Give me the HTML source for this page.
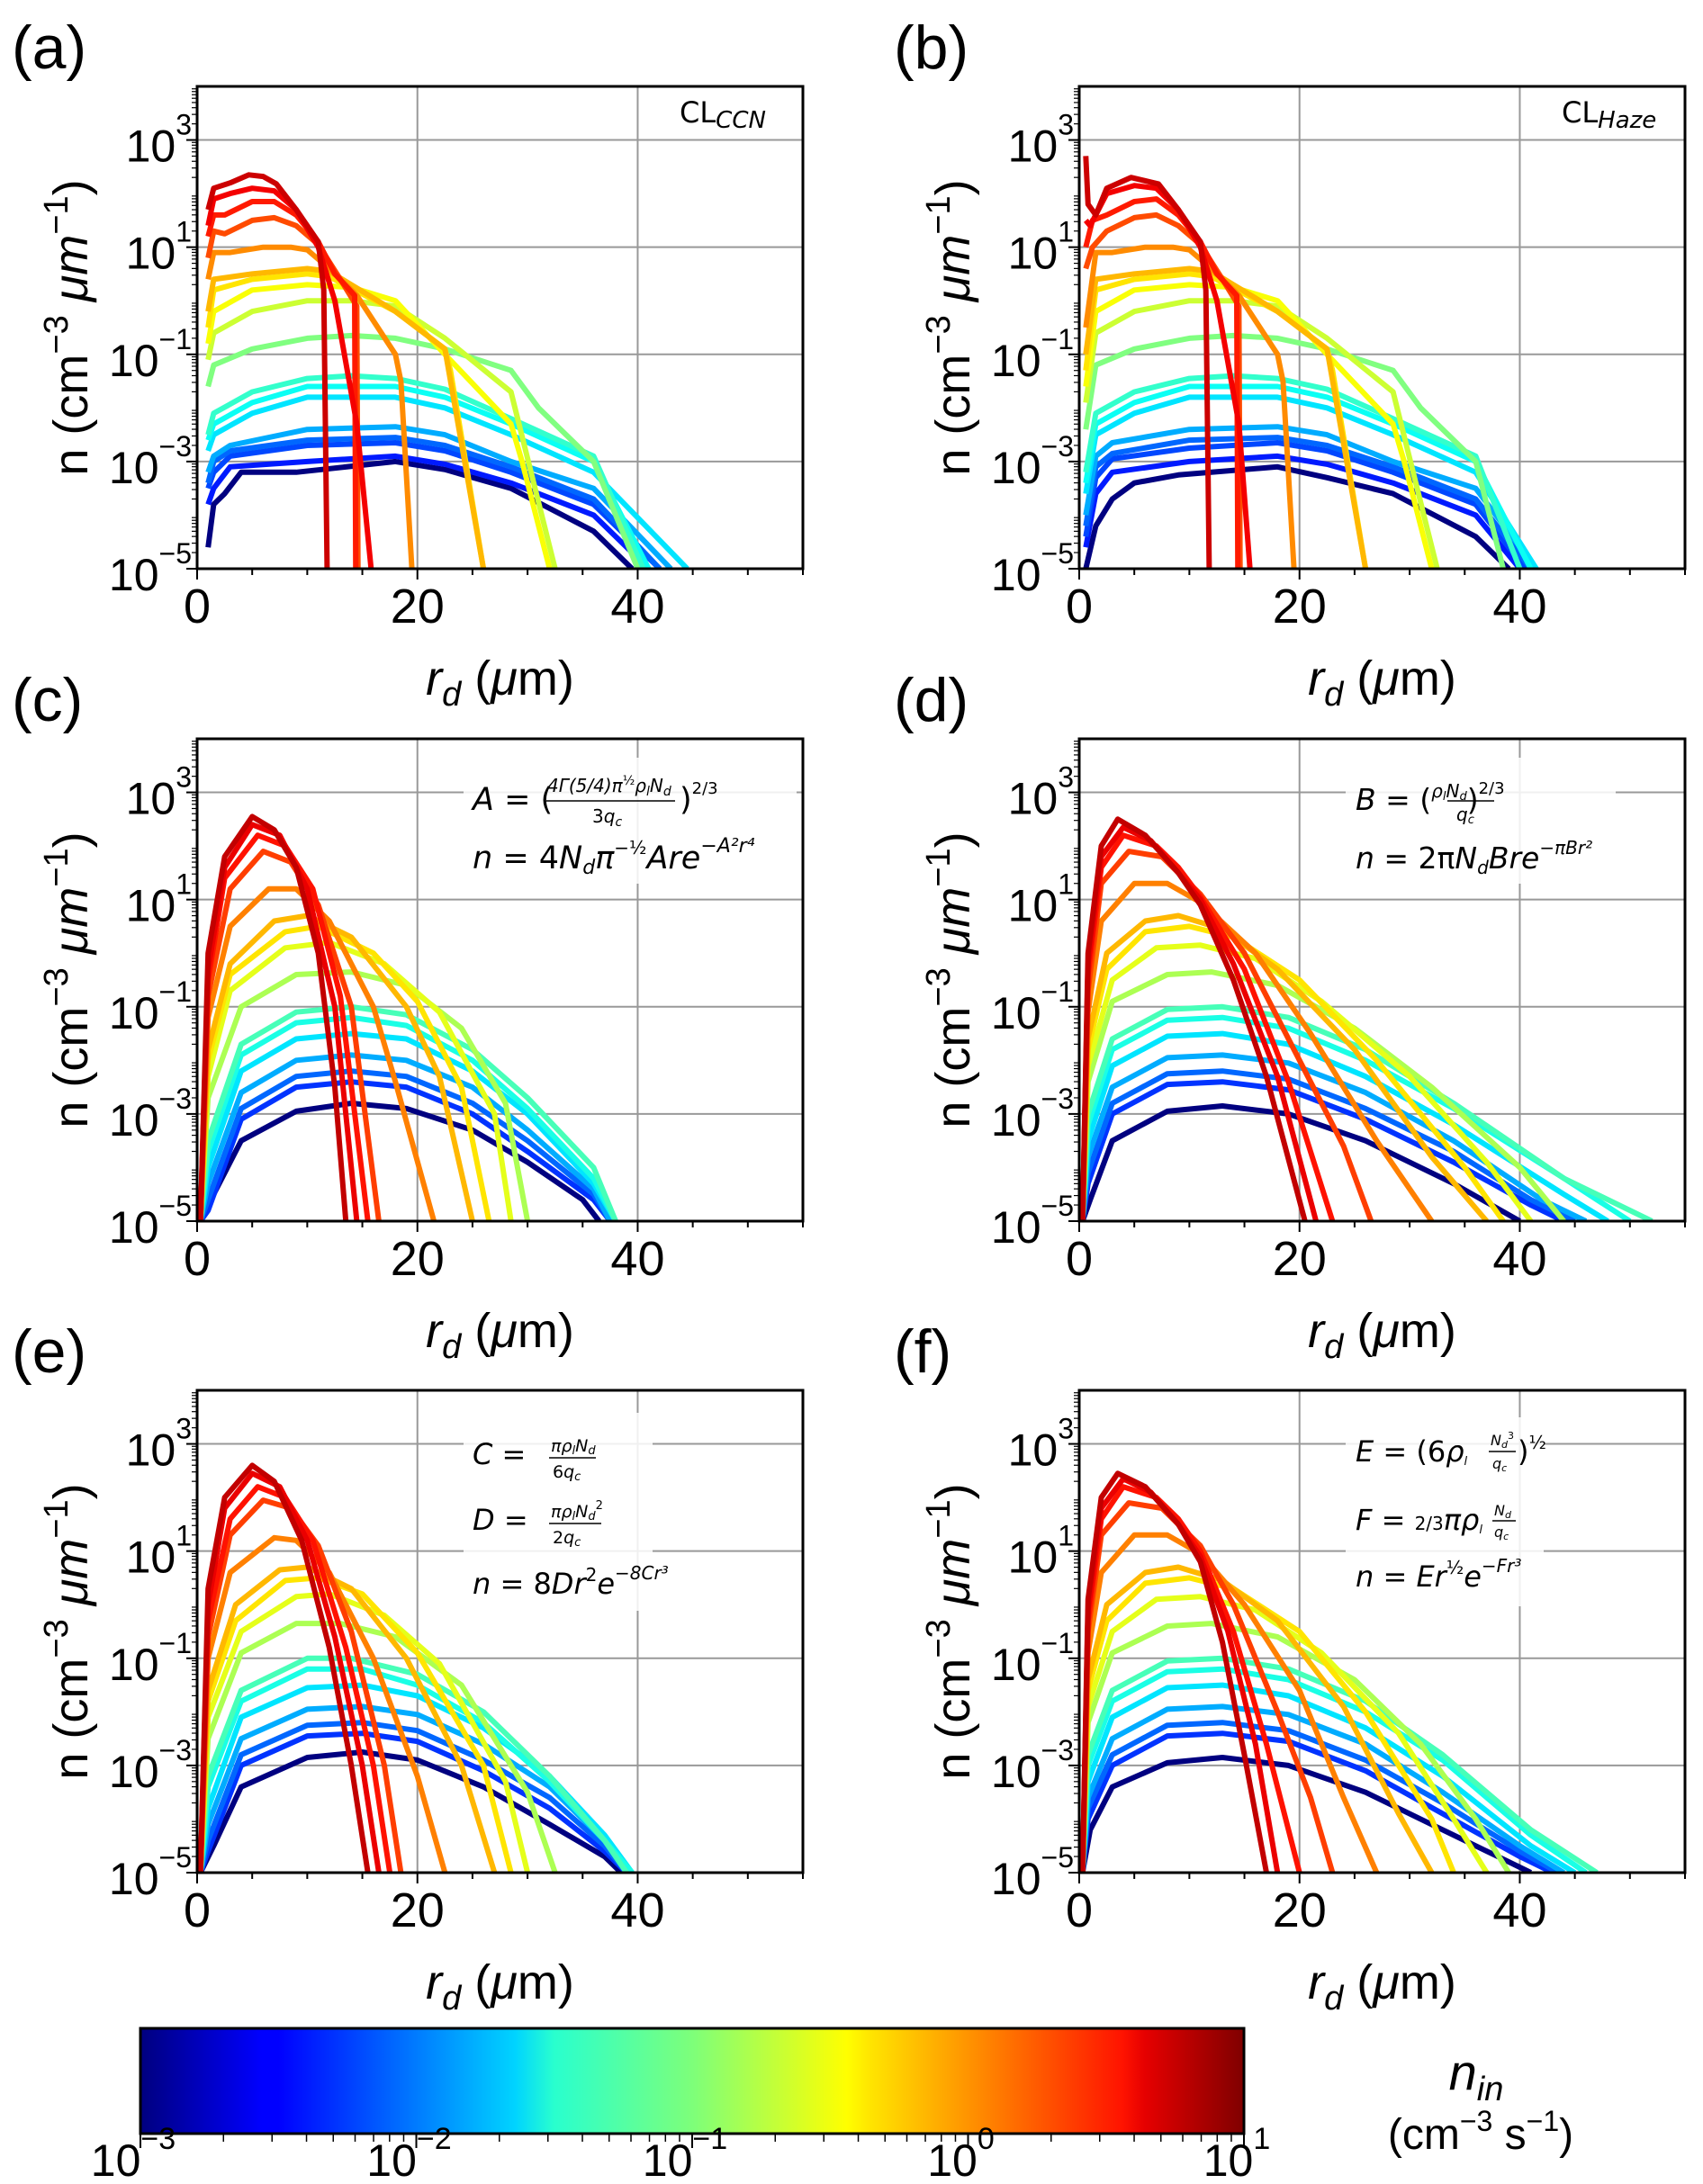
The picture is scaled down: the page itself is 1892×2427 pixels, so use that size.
<!DOCTYPE html>
<html><head><meta charset="utf-8">
<style>
html,body{margin:0;padding:0;background:#fff;}
svg{display:block;font-family:"Liberation Sans","DejaVu Sans",sans-serif;}
.math{font-family:"DejaVu Sans","Liberation Sans",sans-serif;}
</style></head>
<body>
<svg id="fig" width="1892" height="2427" viewBox="0 0 1892 2427" xmlns="http://www.w3.org/2000/svg">
<defs>
<linearGradient id="jet" x1="0" x2="1" y1="0" y2="0">
<stop offset="0" stop-color="#00007f"/>
<stop offset="0.11" stop-color="#0000ff"/>
<stop offset="0.125" stop-color="#0000ff"/>
<stop offset="0.34" stop-color="#00d4ff"/>
<stop offset="0.375" stop-color="#29ffce"/>
<stop offset="0.5" stop-color="#7dff7a"/>
<stop offset="0.64" stop-color="#ffff00"/>
<stop offset="0.66" stop-color="#ffe600"/>
<stop offset="0.89" stop-color="#ff1300"/>
<stop offset="0.91" stop-color="#e60000"/>
<stop offset="1" stop-color="#7f0000"/>
</linearGradient>
</defs>
<g id="panels"></g>
<g id="cbar"></g>
</svg>
<script>
// ---- data: nin per curve, radii (um), log10(n) per curve ----
const aNin=[0.001,0.004,0.006,0.008,0.015,0.025,0.035,0.05,0.1,0.2,0.3,0.4,0.6,0.9,1.6,2.5,3.5,5];
const aR=[
[1,1.5,2.5,4,9,18,22.5,28.5,36,39.5],
[1,1.5,3,10,18,22.5,28.5,36,41],
[1,1.5,3,10,18,22.5,28.5,36,42],
[1,1.5,3,10,18,22.5,28.5,36,42],
[1,1.5,3,10,18,22.5,28.5,36,43],
[1,1.5,5,10,18,22.5,28.5,36,44.5],
[1,1.5,5,10,18,22.5,28.5,36,41],
[1,1.5,5,10,14,18,22.5,28.5,36,40.5],
[1,1.5,5,10,14,18,22.5,28.5,31,36,40],
[1,1.5,5,10,14,18,22.5,28.5,32.5],
[1,1.5,5,10,14,18,22.5,28.5,29.5,32],
[1,1.5,5,10,12,18,22.5,23,26],
[1,1.5,5,10,12,14,18,22.5,26],
[1,1.5,3,6,8.5,10,12,14.5,18,18.5,19.5],
[1,1.5,2.5,5,7,9,11,13,14.5,14.6],
[1,1.5,2.5,5,7,9,11,12.5,14.3,14.4],
[1,1.5,3,5,7,9,11,12.5,14.5,15.8],
[1,1.5,3,4.7,6,7.2,9,11,11.5,11.8]];
const aLog=[
[-4.6,-3.8,-3.6,-3.2,-3.2,-3.0,-3.15,-3.5,-4.3,-5],
[-3.8,-3.5,-3.1,-3.0,-2.9,-3.05,-3.4,-4.0,-5],
[-3.5,-3.2,-2.9,-2.7,-2.65,-2.8,-3.2,-3.8,-5],
[-3.4,-3.0,-2.8,-2.6,-2.55,-2.7,-3.1,-3.7,-5],
[-3.2,-2.9,-2.7,-2.4,-2.35,-2.5,-3.0,-3.5,-5],
[-2.8,-2.5,-2.1,-1.8,-1.8,-2.0,-2.5,-3.2,-5],
[-2.6,-2.3,-1.9,-1.6,-1.6,-1.8,-2.3,-3.0,-5],
[-2.5,-2.1,-1.7,-1.45,-1.4,-1.45,-1.65,-2.2,-2.9,-5],
[-1.6,-1.2,-0.9,-0.7,-0.65,-0.7,-0.9,-1.3,-2.0,-3.0,-5],
[-1.1,-0.6,-0.2,0,0,-0.1,-0.7,-1.7,-5],
[-0.8,-0.2,0.2,0.3,0.25,0,-1.0,-2.3,-3,-5],
[-0.5,0.2,0.4,0.5,0.45,-0.2,-0.9,-1.3,-5],
[-0.2,0.4,0.5,0.6,0.55,0.3,-0.2,-0.9,-5],
[0.4,0.9,0.9,1.0,1.0,0.95,0.6,0.1,-1.0,-1.5,-5],
[0.8,1.3,1.25,1.5,1.55,1.4,1.05,0.4,-0.1,-5],
[1.2,1.6,1.6,1.85,1.85,1.6,1.1,0.5,0.1,-5],
[1.4,1.9,2.0,2.1,2.05,1.7,1.0,0.0,-2.3,-5],
[1.7,2.1,2.2,2.35,2.32,2.18,1.7,1.1,0.2,-5]];

const bNin=[0.001,0.004,0.006,0.008,0.015,0.025,0.035,0.05,0.1,0.2,0.3,0.4,0.6,0.9,1.6,2.5,3.5,5];
const bR=[
[0.6,1.5,3,5,9,18,22.5,28.5,36,39],
[0.6,1.5,3,10,18,22.5,28.5,36,40],
[0.6,1.5,3,10,18,22.5,28.5,36,40.5],
[0.6,1.5,3,10,18,22.5,28.5,36,41],
[0.6,1.5,3,10,18,22.5,28.5,36,41.5],
[0.6,1.5,5,10,18,22.5,28.5,36,41.5],
[0.6,1.5,5,10,18,22.5,28.5,36,41],
[0.6,1.5,5,10,14,18,22.5,28.5,36,40],
[0.6,1.5,5,10,14,18,22.5,28.5,31,36,38.5],
[0.6,1.5,5,10,14,18,22.5,28.5,32.5],
[0.6,1.5,5,10,14,18,22.5,28.5,29.5,32],
[0.6,1.5,5,10,12,18,22.5,23,26],
[0.6,1.5,5,10,12,14,18,22.5,26],
[0.6,1.5,3,6,8.5,10,12,14.5,18,18.5,19.5],
[0.6,1.2,2.5,5,7,9,11,13,14.5,14.6],
[0.6,1.2,2.5,5,7,9,11,12.5,14.3,14.4],
[0.6,1.0,2.5,5,7,9,11,12.5,14.5,15.5],
[0.6,0.8,1.5,2.5,4.7,7.2,9,11,11.5,11.8]];
const bLog=[
[-5,-4.2,-3.7,-3.4,-3.25,-3.1,-3.3,-3.6,-4.4,-5],
[-4.6,-3.6,-3.2,-3.0,-2.9,-3.05,-3.4,-4.0,-5],
[-4.4,-3.3,-2.95,-2.75,-2.65,-2.8,-3.2,-3.8,-5],
[-4.2,-3.1,-2.85,-2.6,-2.55,-2.7,-3.1,-3.7,-5],
[-4.0,-2.9,-2.65,-2.4,-2.35,-2.5,-3.0,-3.5,-5],
[-3.6,-2.5,-2.1,-1.8,-1.8,-2.0,-2.5,-3.2,-5],
[-3.4,-2.3,-1.9,-1.6,-1.6,-1.8,-2.3,-3.0,-5],
[-3.2,-2.1,-1.7,-1.45,-1.4,-1.45,-1.65,-2.2,-2.9,-5],
[-2.4,-1.2,-0.9,-0.7,-0.65,-0.7,-0.9,-1.3,-2.0,-3.0,-5],
[-1.9,-0.6,-0.2,0,0,-0.1,-0.7,-1.7,-5],
[-1.6,-0.2,0.2,0.3,0.25,0,-1.0,-2.3,-3,-5],
[-1.3,0.2,0.4,0.5,0.45,-0.2,-0.9,-1.3,-5],
[-1.0,0.4,0.5,0.6,0.55,0.3,-0.2,-0.9,-5],
[-0.5,0.9,0.9,1.0,1.0,0.95,0.6,0.1,-1.0,-1.5,-5],
[0.6,1.0,1.3,1.55,1.6,1.4,1.05,0.4,-0.1,-5],
[1.0,1.5,1.6,1.85,1.9,1.6,1.1,0.5,0.1,-5],
[1.5,1.4,2.0,2.15,2.1,1.7,1.0,0.0,-2.3,-5],
[2.7,1.8,1.6,2.1,2.3,2.18,1.7,1.1,0.2,-5]];

const cNin=[0.001,0.005,0.008,0.015,0.025,0.04,0.06,0.15,0.25,0.4,0.6,1.0,1.8,2.7,3.8,5.5];
const cR=[
[0.3,1.5,4,9,14,19,25,30,35,36.5],
[0.3,1,4,9,14,19,25,30,36,37.5],
[0.3,1,4,9,14,19,25,30,36,37.5],
[0.3,1,4,9,14,19,25,30,36,37.5],
[0.3,1,4,9,14,19,25,30,36,38],
[0.3,1,4,9,14,19,25,30,36,38],
[0.3,1,4,9,14,19,25,30,36,38],
[0.3,1,4,9,14,19,24,28,30],
[0.3,1,3,8,12,17,22,27,28.5],
[0.3,1,3,8,11,16,20,24,26.5],
[0.3,1,3,7,10,14,19,22,25],
[0.3,1,3,6.5,9,12,16,18,21.5],
[0.3,1,3,6,8.5,11,14,16.5],
[0.3,1,2.5,5.5,8,10.5,13,15.5],
[0.3,1,2.5,5,7.5,10,12.5,14.5],
[0.3,1,2.5,5,7,9,11,12.5,13.5]];
const cLog=[
[-5,-4.5,-3.5,-2.95,-2.8,-2.9,-3.3,-3.9,-4.6,-5],
[-5,-4.8,-3.1,-2.5,-2.4,-2.5,-3.0,-3.7,-4.6,-5],
[-5,-4.6,-2.9,-2.3,-2.2,-2.3,-2.8,-3.5,-4.5,-5],
[-5,-4.3,-2.6,-2.0,-1.9,-2.0,-2.5,-3.3,-4.4,-5],
[-5,-4.0,-2.2,-1.6,-1.5,-1.6,-2.2,-3.0,-4.3,-5],
[-5,-3.7,-1.9,-1.3,-1.2,-1.35,-2.0,-2.9,-4.2,-5],
[-5,-3.5,-1.7,-1.1,-1.0,-1.15,-1.8,-2.7,-4.0,-5],
[-5,-2.7,-1.0,-0.4,-0.35,-0.6,-1.4,-2.8,-5],
[-5,-2.3,-0.7,0.1,0.2,-0.2,-1.1,-3.0,-5],
[-5,-2.0,-0.4,0.4,0.5,0.0,-0.9,-2.5,-5],
[-5,-1.8,-0.2,0.6,0.7,0.3,-1.0,-2.3,-5],
[-5,-1.2,0.5,1.2,1.2,0.6,-1.0,-2.4,-5],
[-5,-0.8,1.2,1.9,1.7,0.9,-1.0,-5],
[-5,-0.5,1.4,2.2,2.0,1.2,-0.8,-5],
[-5,-0.3,1.6,2.4,2.2,1.2,-1.0,-5],
[-5,0.0,1.8,2.55,2.3,1.6,0.0,-2.5,-5]];

const dNin=[0.001,0.005,0.008,0.015,0.025,0.04,0.06,0.15,0.25,0.4,0.6,1.0,1.8,2.7,3.8,5.5];
const dR=[
[0.3,1,3,8,13,19,26,34,40],
[0.3,0.8,3,8,13,19,26,34,41,44],
[0.3,0.8,3,8,13,19,26,34,41,45],
[0.3,0.8,3,8,13,19,26,34,42,46],
[0.3,0.8,3,8,13,19,26,34,44,48],
[0.3,0.8,3,8,13,19,26,34,44,50],
[0.3,0.8,3,8,13,19,26,34,44,52],
[0.3,0.8,3,8,12,18,25,32,40,44],
[0.3,0.8,3,7,11,16,22,30,37,41],
[0.3,0.8,2.5,6,10,14,20,27,35,38.5],
[0.3,0.8,2.5,6,9,13,18,25,32,37],
[0.3,0.8,2,5,8,11,16,21,27,32],
[0.3,0.8,2,4.5,7.5,11,15,20,24,26.5],
[0.3,0.8,2,4,7,9,11,15,19,23],
[0.3,0.8,2,4,6.5,9,11,14,18,21.5],
[0.3,0.8,2,3.5,6,9,11,14,17,20.5]];
const dLog=[
[-5,-4.6,-3.5,-2.95,-2.85,-3.0,-3.5,-4.3,-5],
[-5,-4.3,-3.0,-2.45,-2.4,-2.55,-3.1,-3.9,-4.7,-5],
[-5,-4.1,-2.8,-2.25,-2.2,-2.35,-2.9,-3.7,-4.6,-5],
[-5,-3.8,-2.5,-1.95,-1.9,-2.05,-2.6,-3.5,-4.6,-5],
[-5,-3.5,-2.1,-1.55,-1.5,-1.7,-2.3,-3.2,-4.5,-5],
[-5,-3.2,-1.8,-1.25,-1.2,-1.4,-2.0,-2.9,-4.2,-5],
[-5,-3.0,-1.6,-1.05,-1.0,-1.2,-1.8,-2.8,-4.2,-5],
[-5,-2.4,-0.9,-0.4,-0.35,-0.6,-1.4,-2.5,-4.0,-5],
[-5,-2.1,-0.5,0.1,0.15,-0.1,-0.9,-2.3,-3.9,-5],
[-5,-1.8,-0.3,0.4,0.5,0.3,-0.5,-2.0,-4.0,-5],
[-5,-1.6,0.0,0.6,0.7,0.45,-0.3,-1.8,-3.8,-5],
[-5,-1.1,0.6,1.3,1.3,0.95,0.0,-1.5,-3.5,-5],
[-5,-0.7,1.3,1.9,1.8,1.1,0.0,-2.0,-3.6,-5],
[-5,-0.4,1.6,2.2,2.0,1.6,1.05,-0.3,-2.4,-5],
[-5,-0.2,1.8,2.35,2.1,1.5,1.0,-0.2,-2.3,-5],
[-5,0.0,2.0,2.5,2.2,1.5,0.9,-0.5,-2.3,-5]];

const eNin=[0.001,0.005,0.008,0.015,0.025,0.04,0.06,0.15,0.25,0.4,0.6,1.0,1.8,2.7,3.8,5.5];
const eR=[
[0.3,1.5,4,10,15,20,26,32,37,38.5],
[0.3,1,4,10,15,20,26,32,37,39],
[0.3,1,4,10,15,20,26,32,37,39],
[0.3,1,4,10,15,20,26,32,37,39],
[0.3,1,4,10,15,20,26,32,37,39.5],
[0.3,1,4,10,15,20,26,32,37,39.5],
[0.3,1,4,10,14,20,26,32,37,39],
[0.3,1,4,9,13,18,24,30,32.5],
[0.3,1,4,9,12,17,22,28,30],
[0.3,1,3.5,8,11,15,20,26,28.5],
[0.3,1,3.5,7.5,10,14,19,24,27],
[0.3,1,3,7,9,12,16,20,22.5],
[0.3,1,3,6,8.5,11,14,17,18.5],
[0.3,1,3,5.5,8,10.5,13.5,16,17.5],
[0.3,1,2.5,5,7.5,10,12.5,15,16.5],
[0.3,1,2.5,5,7,9.5,12,14,15.5]];
const eLog=[
[-5,-4.5,-3.4,-2.85,-2.75,-2.9,-3.4,-4.1,-4.7,-5],
[-5,-4.6,-3.0,-2.45,-2.4,-2.55,-3.1,-3.8,-4.6,-5],
[-5,-4.4,-2.8,-2.25,-2.2,-2.35,-2.9,-3.6,-4.5,-5],
[-5,-4.1,-2.5,-1.95,-1.9,-2.05,-2.6,-3.4,-4.4,-5],
[-5,-3.8,-2.1,-1.55,-1.5,-1.7,-2.3,-3.2,-4.3,-5],
[-5,-3.4,-1.8,-1.2,-1.2,-1.5,-2.2,-3.3,-4.4,-5],
[-5,-3.2,-1.6,-1.0,-1.0,-1.3,-2.0,-3.2,-4.4,-5],
[-5,-2.5,-0.9,-0.35,-0.35,-0.6,-1.5,-3.5,-5],
[-5,-2.1,-0.5,0.15,0.2,-0.2,-1.1,-3.3,-5],
[-5,-1.8,-0.3,0.45,0.5,0.2,-0.9,-3.0,-5],
[-5,-1.6,0.0,0.65,0.7,0.3,-1.0,-3.0,-5],
[-5,-1.0,0.6,1.25,1.2,0.6,-1.0,-3.2,-5],
[-5,-0.6,1.3,1.95,1.8,1.1,-0.5,-3.0,-5],
[-5,-0.3,1.6,2.2,2.0,1.2,-0.8,-3.0,-5],
[-5,0.0,1.8,2.45,2.2,1.2,-0.6,-3.0,-5],
[-5,0.3,2.0,2.6,2.3,1.2,-0.8,-3.0,-5]];

const fNin=[0.001,0.005,0.008,0.015,0.025,0.04,0.06,0.15,0.25,0.4,0.6,1.0,1.8,2.7,3.8,5.5];
const fR=[
[0.3,1,3,8,13,19,26,33,38,41],
[0.3,0.8,3,8,13,19,26,33,40,43],
[0.3,0.8,3,8,13,19,26,33,40,43.5],
[0.3,0.8,3,8,13,19,26,33,40,44],
[0.3,0.8,3,8,13,19,26,33,41,45],
[0.3,0.8,3,8,13,19,26,33,41,46],
[0.3,0.8,3,8,13,19,26,33,41,47],
[0.3,0.8,3,8,12,18,25,31,36,39],
[0.3,0.8,3,7,11,16,22,29,34,37],
[0.3,0.8,2.5,6,10,14,20,26,32,34],
[0.3,0.8,2.5,6,9,13,18,24,29,32],
[0.3,0.8,2,5,8,11,15,20,24,27],
[0.3,0.8,2,4.5,7.5,11,14,18,21,23],
[0.3,0.8,2,4,7,9,11,14,17,20],
[0.3,0.8,2,4,6.5,9,11,13.5,16,18],
[0.3,0.8,2,3.5,6,9,11,13,15,17]];
const fLog=[
[-5,-4.2,-3.4,-2.95,-2.85,-3.0,-3.5,-4.2,-4.7,-5],
[-5,-4.0,-3.0,-2.45,-2.4,-2.55,-3.1,-3.9,-4.7,-5],
[-5,-3.8,-2.8,-2.25,-2.2,-2.35,-2.9,-3.7,-4.6,-5],
[-5,-3.6,-2.5,-1.95,-1.9,-2.05,-2.6,-3.5,-4.5,-5],
[-5,-3.3,-2.1,-1.55,-1.5,-1.7,-2.3,-3.2,-4.5,-5],
[-5,-3.0,-1.8,-1.25,-1.2,-1.4,-2.0,-2.9,-4.3,-5],
[-5,-2.8,-1.6,-1.05,-1.0,-1.2,-1.8,-2.8,-4.2,-5],
[-5,-2.2,-0.9,-0.4,-0.35,-0.6,-1.4,-2.6,-4.0,-5],
[-5,-1.9,-0.5,0.1,0.15,-0.1,-0.9,-2.4,-4.0,-5],
[-5,-1.6,-0.3,0.4,0.5,0.3,-0.5,-2.0,-4.0,-5],
[-5,-1.4,0.0,0.6,0.7,0.45,-0.3,-1.9,-3.9,-5],
[-5,-0.9,0.6,1.3,1.3,0.95,0.0,-1.6,-3.6,-5],
[-5,-0.5,1.3,1.9,1.8,1.1,0.0,-2.0,-3.6,-5],
[-5,-0.3,1.6,2.2,2.0,1.6,1.0,-0.5,-2.6,-5],
[-5,-0.1,1.8,2.35,2.1,1.5,0.9,-0.5,-2.6,-5],
[-5,0.1,2.0,2.45,2.2,1.5,0.8,-0.7,-2.8,-5]];

const xTicks=[0,20,40];
const yTicks=[3,1,-1,-3,-5];
const cbTicks=[-3,-2,-1,0,1];

const NS="http://www.w3.org/2000/svg";
function mk(tag,attrs,parent){const e=document.createElementNS(NS,tag);for(const k in attrs)e.setAttribute(k,attrs[k]);if(parent)parent.appendChild(e);return e;}
function jet(v){const c=x=>Math.max(0,Math.min(1,x));const r=c(1.5-Math.abs(4*v-3)),g=c(1.5-Math.abs(4*v-2)),b=c(1.5-Math.abs(4*v-1));return `rgb(${Math.round(r*255)},${Math.round(g*255)},${Math.round(b*255)})`;}

const panels=[
{id:"a",nin:aNin,r:aR,y:aLog,L:219,T:96},
{id:"b",nin:bNin,r:bR,y:bLog,L:1199,T:96},
{id:"c",nin:cNin,r:cR,y:cLog,L:219,T:821},
{id:"d",nin:dNin,r:dR,y:dLog,L:1199,T:821},
{id:"e",nin:eNin,r:eR,y:eLog,L:219,T:1545},
{id:"f",nin:fNin,r:fR,y:fLog,L:1199,T:1545}];
const W=673,H=536,XMAX=55,YMIN=-5,YMAX=4;
const root=document.getElementById("panels");

panels.forEach(p=>{
  const g=mk("g",{},root);
  
  
  const xs=v=>p.L+v/XMAX*W;
  const ys=v=>p.T+H-(v-YMIN)/(YMAX-YMIN)*H;
  const cp=mk("clipPath",{id:"clip"+p.id},g);mk("rect",{x:p.L,y:p.T,width:W,height:H},cp);
  xTicks.forEach(t=>{if(t>0){const l=mk("line",{x1:xs(t),x2:xs(t),y1:p.T,y2:p.T+H,stroke:"#999","stroke-width":2},g);}});
  yTicks.forEach(t=>{if(t>YMIN){const l=mk("line",{x1:p.L,x2:p.L+W,y1:ys(t),y2:ys(t),stroke:"#999","stroke-width":2},g);}});
  const cg=mk("g",{"clip-path":`url(#clip${p.id})`},g);
  p.nin.forEach((n,i)=>{
    const pts=p.r[i].map((rv,j)=>xs(rv).toFixed(1)+","+ys(p.y[i][j]).toFixed(1)).join(" ");
    const col=jet((Math.log10(n)+3)/4);
    const pl=mk("polyline",{points:pts,fill:"none",stroke:col,"stroke-width":6,"stroke-linejoin":"round"},cg);
    
    
  });
  const fr=mk("rect",{x:p.L,y:p.T,width:W,height:H,fill:"none",stroke:"#000","stroke-width":3},g);
  
  for(let t=0;t<=XMAX;t+=5){const major=t%20===0;mk("line",{x1:xs(t),x2:xs(t),y1:p.T+H,y2:p.T+H+(major?12:7),stroke:"#000","stroke-width":2},g);}
  xTicks.forEach(t=>{const tx=mk("text",{x:xs(t),y:p.T+H+60,"font-size":54,"text-anchor":"middle"},g);tx.textContent=t;});
  yTicks.forEach(t=>{
    mk("line",{x1:p.L-12,x2:p.L,y1:ys(t),y2:ys(t),stroke:"#000","stroke-width":2},g);
    const tx=mk("text",{x:p.L-6,y:ys(t)+24,"font-size":50,"text-anchor":"end"},g);
    
    const a=mk("tspan",{},tx);a.textContent="10";
    const s=mk("tspan",{"font-size":32,dy:-30},tx);s.textContent=(t<0?"\u2212":"")+Math.abs(t);
  });
  for(let t=YMIN;t<YMAX;t++){for(let k=2;k<10;k++){const v=t+Math.log10(k);if(v<YMAX) mk("line",{x1:p.L-6,x2:p.L,y1:ys(v),y2:ys(v),stroke:"#000","stroke-width":1.2},g);}}
  const xl=mk("text",{x:p.L+W/2,y:p.T+H+140,"font-size":54,"text-anchor":"middle"},g);
  
  let t1=mk("tspan",{"font-style":"italic"},xl);t1.textContent="r";
  let t2=mk("tspan",{"font-style":"italic","font-size":38,dy:12},xl);t2.textContent="d";
  let t3=mk("tspan",{dy:-12},xl);t3.textContent=" (";
  let t4=mk("tspan",{"font-style":"italic"},xl);t4.textContent="\u03bc";
  let t5=mk("tspan",{},xl);t5.textContent="m)";
  const cx=p.L-122,cy=p.T+H/2;
  const yl=mk("text",{x:cx,y:cy,"font-size":54,"text-anchor":"middle",transform:`rotate(-90 ${cx} ${cy})`},g);
  
  let u1=mk("tspan",{},yl);u1.textContent="n (cm";
  let u2=mk("tspan",{"font-size":38,dy:-22},yl);u2.textContent="\u22123";
  let u3=mk("tspan",{dy:22},yl);u3.textContent=" ";
  let u4=mk("tspan",{"font-style":"italic"},yl);u4.textContent="\u03bcm";
  let u5=mk("tspan",{"font-size":38,dy:-22},yl);u5.textContent="\u22121";
  let u6=mk("tspan",{dy:22},yl);u6.textContent=")";
  const pl=mk("text",{x:p.L-206,y:p.T-20,"font-size":68},g);
  pl.textContent="("+p.id+")";
  
  p.g=g;
});

function txt(parent,x,y,size,name,parts){
  const t=mk("text",{x:x,y:y,"font-size":size,class:"math"},parent);
  
  parts.forEach(pt=>{const s=mk("tspan",pt[1]||{},t);s.textContent=pt[0];});
  return t;
}
const I={"font-style":"italic"};
[["a","CL","CCN",755],["b","CL","Haze",1735]].forEach(([id,m,sub,x])=>{
  const p=panels.find(q=>q.id===id);
  mk("rect",{x:x-10,y:102,width:125,height:52,fill:"#fff"},p.g);
  txt(p.g,x,136,32,"legend-"+id,[[m],[sub,{"font-style":"italic","font-size":26,dy:6}]]);
});
function bg(p,x,y,w,h){mk("rect",{x:x,y:y,width:w,height:h,fill:"#fff","fill-opacity":0.85},p.g);}
const pc=panels[2],pd=panels[3],pe=panels[4],pf=panels[5];
bg(pc,515,842,370,140);
txt(pc.g,525,900,35,"formula-A",[["A",I],[" = ("]]);
txt(pc.g,608,880,20,"formula-A-num",[["4\u0393(5/4)\u03c0",I],["\u00bd",{"font-size":14,dy:-8}],["\u03c1",{"font-style":"italic",dy:8}],["l",{"font-style":"italic","font-size":14,dy:4}],["N",{"font-style":"italic",dy:-4}],["d",{"font-style":"italic","font-size":14,dy:4}]]);
mk("line",{x1:607,x2:750,y1:890,y2:890,stroke:"#000","stroke-width":1.5},pc.g);
txt(pc.g,658,914,20,"formula-A-den",[["3"],["q",I],["c",{"font-style":"italic","font-size":14,dy:4}]]);
txt(pc.g,755,900,35,"formula-A-close",[[")"],["2/3",{"font-size":18,dy:-18}]]);
txt(pc.g,525,965,35,"formula-n",[["n",I],[" = 4"],["N",I],["d",{"font-style":"italic","font-size":22,dy:6}],["\u03c0",{"font-style":"italic",dy:-6}],["\u2212\u00bd",{"font-size":20,dy:-16}],["Are",{"font-style":"italic",dy:16}],["\u2212A\u00b2r\u2074",{"font-style":"italic","font-size":22,dy:-18}]]);

bg(pd,1495,842,300,140);
txt(pd.g,1506,900,33,"formula-B",[["B",I],[" = ("],["\u03c1",{"font-style":"italic","font-size":20,dy:-14}],["l",{"font-style":"italic","font-size":13,dy:3}],["N",{"font-style":"italic","font-size":20,dy:-3}],["d",{"font-style":"italic","font-size":13,dy:3}],[")",{dy:11}],["2/3",{"font-size":18,dy:-18}]]);
mk("line",{x1:1608,x2:1660,y1:890,y2:890,stroke:"#000","stroke-width":1.5},pd.g);
txt(pd.g,1618,912,20,"formula-B-den",[["q",I],["c",{"font-style":"italic","font-size":13,dy:3}]]);
txt(pd.g,1506,965,33,"formula-n",[["n",I],[" = 2\u03c0"],["N",I],["d",{"font-style":"italic","font-size":20,dy:6}],["Bre",{"font-style":"italic",dy:-6}],["\u2212\u03c0Br\u00b2",{"font-style":"italic","font-size":20,dy:-16}]]);

bg(pe,515,1570,210,220);
txt(pe.g,525,1627,32,"formula-C",[["C",I],[" = "]]);
txt(pe.g,612,1613,19,"formula-C-num",[["\u03c0\u03c1",I],["l",{"font-style":"italic","font-size":13,dy:3}],["N",{"font-style":"italic",dy:-3}],["d",{"font-style":"italic","font-size":13,dy:3}]]);
mk("line",{x1:610,x2:662,y1:1620,y2:1620,stroke:"#000","stroke-width":1.5},pe.g);
txt(pe.g,614,1642,19,"formula-C-den",[["6"],["q",I],["c",{"font-style":"italic","font-size":13,dy:3}]]);
txt(pe.g,525,1700,32,"formula-D",[["D",I],[" = "]]);
txt(pe.g,612,1686,19,"formula-D-num",[["\u03c0\u03c1",I],["l",{"font-style":"italic","font-size":13,dy:3}],["N",{"font-style":"italic",dy:-3}],["d",{"font-style":"italic","font-size":13,dy:3}],["2",{"font-size":13,dy:-12}]]);
mk("line",{x1:610,x2:668,y1:1693,y2:1693,stroke:"#000","stroke-width":1.5},pe.g);
txt(pe.g,614,1715,19,"formula-D-den",[["2"],["q",I],["c",{"font-style":"italic","font-size":13,dy:3}]]);
txt(pe.g,525,1771,32,"formula-n",[["n",I],[" = 8"],["Dr",I],["2",{"font-size":20,dy:-14}],["e",{"font-style":"italic",dy:14}],["\u22128Cr\u00b3",{"font-style":"italic","font-size":20,dy:-16}]]);

bg(pf,1495,1575,220,210);
txt(pf.g,1506,1624,32,"formula-E",[["E",I],[" = (6"],["\u03c1",I],["l",{"font-style":"italic","font-size":13,dy:4}],["",{dy:-4}]]);
txt(pf.g,1656,1606,16,"formula-E-num",[["N",I],["d",{"font-style":"italic","font-size":11,dy:3}],["3",{"font-size":11,dy:-10}]]);
mk("line",{x1:1654,x2:1684,y1:1613,y2:1613,stroke:"#000","stroke-width":1.5},pf.g);
txt(pf.g,1658,1632,16,"formula-E-den",[["q",I],["c",{"font-style":"italic","font-size":11,dy:3}]]);
txt(pf.g,1686,1624,32,"formula-E-close",[[")"],["\u00bd",{"font-size":20,dy:-14}]]);
txt(pf.g,1506,1700,32,"formula-F",[["F",I],[" = "],["2/3",{"font-size":20}],["\u03c0\u03c1",I],["l",{"font-style":"italic","font-size":13,dy:4}]]);
txt(pf.g,1660,1684,16,"formula-F-num",[["N",I],["d",{"font-style":"italic","font-size":11,dy:3}]]);
mk("line",{x1:1658,x2:1684,y1:1690,y2:1690,stroke:"#000","stroke-width":1.5},pf.g);
txt(pf.g,1660,1708,16,"formula-F-den",[["q",I],["c",{"font-style":"italic","font-size":11,dy:3}]]);
txt(pf.g,1506,1763,32,"formula-n",[["n",I],[" = "],["Er",I],["\u00bd",{"font-size":20,dy:-14}],["e",{"font-style":"italic",dy:14}],["\u2212Fr\u00b3",{"font-style":"italic","font-size":20,dy:-16}]]);

// colorbar
const cb=document.getElementById("cbar");
const CL=156,CR=1382,CT=2254,CB=2371;
const cbx=v=>CL+(v+3)/4*(CR-CL);
const bar=mk("rect",{x:CL,y:CT,width:CR-CL,height:CB-CT,fill:"url(#jet)",stroke:"#000","stroke-width":3},cb);

for(let d=-3;d<1;d++){for(let k=2;k<10;k++){const x=cbx(d+Math.log10(k));mk("line",{x1:x,x2:x,y1:CB,y2:CB+9,stroke:"#000","stroke-width":1.5},cb);}}
cbTicks.forEach(t=>{
  mk("line",{x1:cbx(t),x2:cbx(t),y1:CB,y2:CB+16,stroke:"#000","stroke-width":2},cb);
  const tx=mk("text",{x:cbx(t)-8,y:2418,"font-size":50,"text-anchor":"middle"},cb);
  
  const a=mk("tspan",{},tx);a.textContent="10";
  const s=mk("tspan",{"font-size":34,dy:-30},tx);s.textContent=(t<0?"\u2212":"")+Math.abs(t);
});
const nl=mk("text",{x:1640,y:2322,"font-size":56,"text-anchor":"middle"},cb);

let n1=mk("tspan",{"font-style":"italic"},nl);n1.textContent="n";
let n2=mk("tspan",{"font-style":"italic","font-size":38,dy:12},nl);n2.textContent="in";
const ul=mk("text",{x:1645,y:2388,"font-size":48,"text-anchor":"middle"},cb);

let v1=mk("tspan",{},ul);v1.textContent="(cm";
let v2=mk("tspan",{"font-size":32,dy:-20},ul);v2.textContent="\u22123";
let v3=mk("tspan",{dy:20},ul);v3.textContent=" s";
let v4=mk("tspan",{"font-size":32,dy:-20},ul);v4.textContent="\u22121";
let v5=mk("tspan",{dy:20},ul);v5.textContent=")";
</script>
</body></html>
